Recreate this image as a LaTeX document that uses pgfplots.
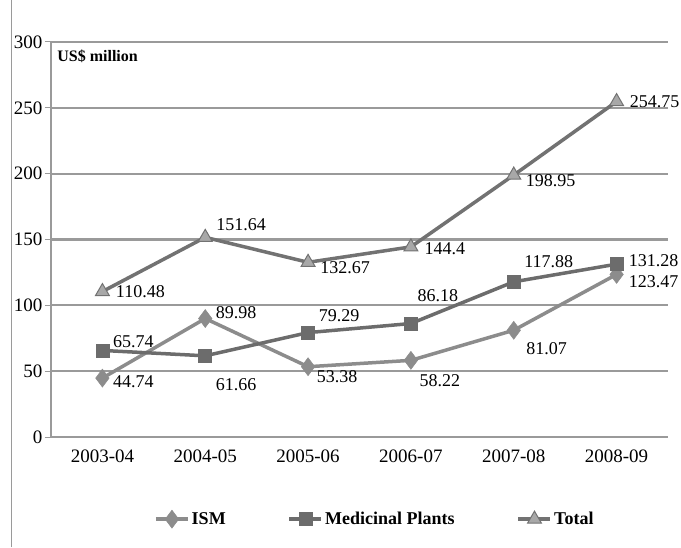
\documentclass[border=0pt]{standalone}
\usepackage{pgfplots}
\pgfplotsset{compat=1.18}
\usepackage{pgfplotstable}
\usepackage{fontspec}
\setmainfont{Liberation Serif}
\definecolor{gridc}{HTML}{9A9A9A}
\definecolor{ismc}{HTML}{8C8C8C}
\definecolor{mpc}{HTML}{6C6C6C}
\definecolor{totc}{HTML}{727272}
\definecolor{totf}{HTML}{A8A8A8}

\pgfplotstableread{
x y lab dx dy
0 44.74 44.74 31 -4
1 89.98 89.98 31 6
2 53.38 53.38 29 -10
3 58.22 58.22 29 -20
4 81.07 81.07 33 -18
5 123.47 123.47 37 -7
}\ism
\pgfplotstableread{
x y lab dx dy
0 65.74 65.74 31 9
1 61.66 61.66 31 -29
2 79.29 79.29 31 17
3 86.18 86.18 27 28
4 117.88 117.88 35 20
5 131.28 131.28 37 4
}\mp
\pgfplotstableread{
x y lab dx dy
0 110.48 110.48 38 0
1 151.64 151.64 36 13
2 132.67 132.67 37 -5
3 144.4 144.4 34 -2
4 198.95 198.95 37 -6
5 254.75 254.75 38 0
}\tot

\begin{document}
\begin{tikzpicture}
\useasboundingbox (-51pt,-110pt) rectangle (630pt,437pt);
\draw[gridc, line width=1pt] (-39pt,-110pt) -- (-39pt,437pt);
\begin{axis}[
  at={(0pt,0pt)}, anchor=south west,
  scale only axis, width=617pt, height=395pt,
  xmin=-0.5, xmax=5.5, ymin=0, ymax=300,
  ytick={0,50,...,300},
  xtick={0,...,5},
  xticklabels={2003-04,2004-05,2005-06,2006-07,2007-08,2008-09},
  extra x ticks={0.5,1.5,2.5,3.5,4.5,5.5},
  extra x tick labels={},
  extra x tick style={major tick length=6pt, tick style={gridc, line width=1pt}},
  major x tick style={draw=none},
  ymajorgrids,
  grid style={gridc, line width=2.2pt},
  axis line style={gridc, line width=1.2pt},
  axis x line*=bottom, axis y line*=left,
  tick align=outside,
  major tick length=6pt,
  tick style={gridc, line width=1pt},
  /pgf/number format/assume math mode=true,
  ticklabel style={font=\fontsize{19}{22}\selectfont},
  yticklabel style={xshift=1pt},
  xticklabel style={yshift=-3pt},
  clip=false,
  nodes near coords={\pgfplotspointmeta},
  point meta=explicit symbolic,
  visualization depends on={\thisrow{dx} \as \dx},
  visualization depends on={\thisrow{dy} \as \dy},
  every node near coord/.append style={anchor=center, xshift=\dx pt, yshift=\dy pt, font=\fontsize{18}{21}\selectfont, text=black},
  legend columns=3,
  legend style={draw=none, fill=none, at={(0.525,-0.208)}, anchor=center,
    font=\bfseries\fontsize{18}{21}\selectfont,
    /tikz/every even column/.append style={column sep=60pt}},
  legend image code/.code={\draw[mark repeat=2,mark phase=2] plot coordinates {(0pt,0pt) (16pt,0pt) (32pt,0pt)};},
]
\addplot[ismc, line width=3.5pt, mark=diamond*, mark size=9pt, mark options={fill=ismc, draw=ismc, line width=0.5pt}]
  table[x=x, y=y, meta=lab] {\ism};
\addlegendentry{ISM}
\addplot[mpc, line width=3.5pt, mark=square*, mark size=6.5pt, mark options={fill=mpc, draw=mpc, line width=0.5pt}]
  table[x=x, y=y, meta=lab] {\mp};
\addlegendentry{Medicinal Plants}
\addplot[totc, line width=3.5pt, mark=triangle*, mark size=8pt, mark options={fill=totf, draw=totc, line width=1pt}]
  table[x=x, y=y, meta=lab] {\tot};
\addlegendentry{Total}
\node[anchor=north west, font=\bfseries\fontsize{16}{19}\selectfont, inner sep=0pt] at (rel axis cs:0.01,0.98) {US\$ million};
\end{axis}
\end{tikzpicture}
\end{document}
